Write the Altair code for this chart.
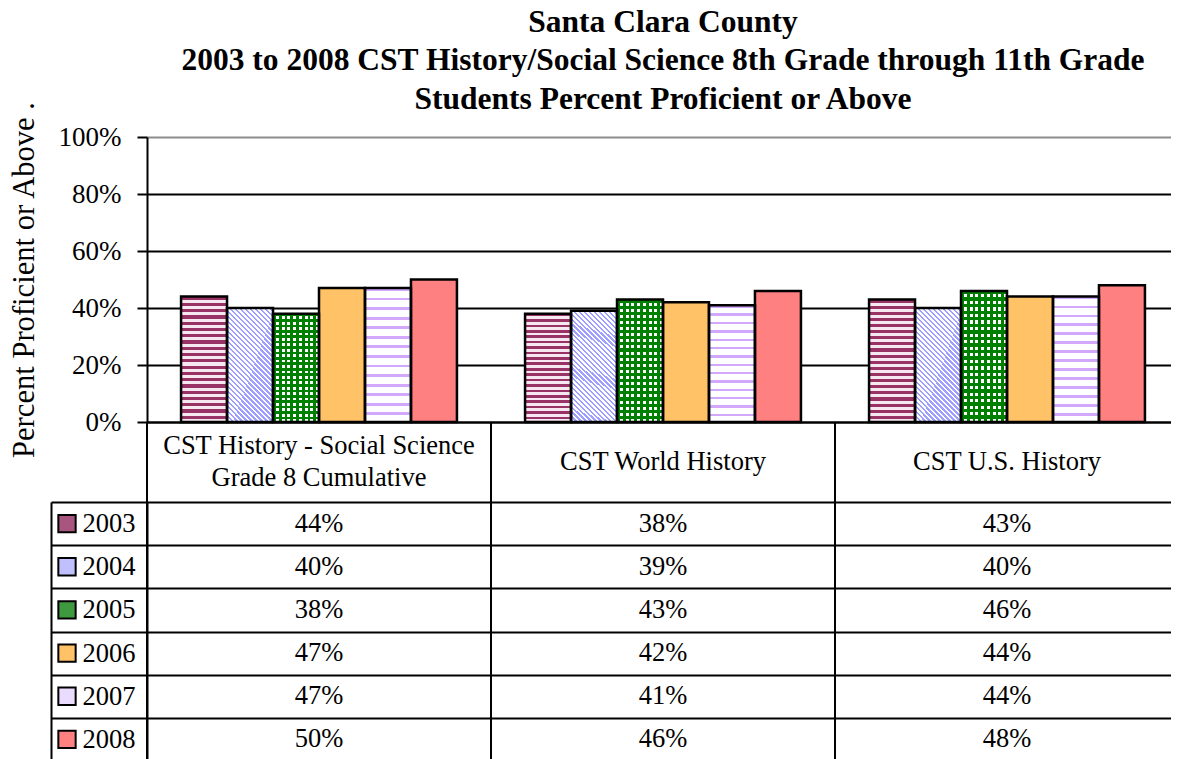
import altair as alt
import pandas as pd

FONT = "Liberation Serif"

categories = ["CST History - Social Science Grade 8 Cumulative", "CST World History", "CST U.S. History"]
header_labels = ["CST History - Social Science\nGrade 8 Cumulative", "CST World History", "CST U.S. History"]
years = ["2003", "2004", "2005", "2006", "2007", "2008"]
v2003 = [44, 38, 43]
v2004 = [40, 39, 40]
v2005 = [38, 43, 46]
v2006 = [47, 42, 44]
v2007 = [47, 41, 44]
v2008 = [50, 46, 48]
y_ticks = [0, 20, 40, 60, 80, 100]
key_colors = ["#a8557f", "#c0c0ff", "#3f9a3f", "#ffc266", "#eadcff", "#ff8080"]
title_lines = ["Santa Clara County",
               "2003 to 2008 CST History/Social Science 8th Grade through 11th Grade",
               "Students Percent Proficient or Above"]
y_title = "Percent Proficient or Above ."

series = dict(zip(years, [v2003, v2004, v2005, v2006, v2007, v2008]))
rows = []
for yr in years:
    for c, v in zip(categories, series[yr]):
        rows.append({"category": c, "year": yr, "value": v})
df = pd.DataFrame(rows)

W = 1032


def stripes(c1, c2, n, duty, x1, y1, x2, y2):
    stops = []
    for i in range(n):
        a = round(i / n, 5)
        b = round((i + duty) / n, 5)
        e = round((i + 1) / n, 5)
        stops += [alt.GradientStop(offset=a, color=c1), alt.GradientStop(offset=b, color=c1),
                  alt.GradientStop(offset=b, color=c2), alt.GradientStop(offset=e, color=c2)]
    return alt.LinearGradient(gradient="linear", stops=stops, x1=x1, y1=y1, x2=x2, y2=y2)


xcat = alt.X("category:N", sort=categories,
             scale=alt.Scale(paddingInner=0.198, paddingOuter=0.099),
             axis=alt.Axis(labels=False, ticks=False, title=None, domain=True,
                           domainColor="black", domainWidth=2, grid=False))
xoff = alt.XOffset("year:N", sort=years, scale=alt.Scale(domain=years, paddingInner=0, paddingOuter=0))
yval = alt.Y("value:Q", scale=alt.Scale(domain=[0, 100]),
             axis=alt.Axis(values=y_ticks, labelExpr="datum.value + '%'",
                           title=y_title, labelFont=FONT, titleFont=FONT,
                           labelFontSize=27, labelPadding=16, tickSize=10, tickWidth=2,
                           tickColor="black", domainColor="black", domainWidth=2,
                           grid=True, gridWidth=2,
                           gridColor={"condition": {"test": "datum.value == 100", "value": "#8c8c8c"},
                                      "value": "black"},
                           titleFontSize=30.6, titleFontWeight="normal", titlePadding=19))

base = alt.Chart(df).encode(x=xcat, xOffset=xoff, y=yval)

fills = {
    "2003": [stripes("#993366", "#f6e8f0", 20, 0.5, 0, 0, 0, 1)],
    "2004": [stripes("#9f9fff", "#ffffff", 32, 0.45, 0, 1, 0.491, -0.207)],
    "2005": [stripes("#008000", "#ffffff", 20, 0.5, 0, 0, 0, 1),
             stripes("#008000", "rgba(255,255,255,0)", 8, 0.5, 0, 0, 1, 0)],
    "2006": ["#ffc266"],
    "2007": [stripes("#d2a8ff", "#ffffff", 14, 0.3, 0, 0, 0, 1)],
    "2008": ["#ff8080"],
}

layers = []
for yr in years:
    for f in fills[yr]:
        layers.append(base.transform_filter(alt.datum.year == yr).mark_bar(fill=f, strokeWidth=0))
layers.append(base.mark_bar(fill="white", fillOpacity=0, stroke="black", strokeWidth=2.5))

top = alt.layer(*layers).properties(
    width=W, height=285,
    title=alt.TitleParams(text=title_lines, fontSize=31.5, fontWeight="bold", anchor="middle",
                          frame="group", lineHeight=38.5, offset=-14.5, color="black", font=FONT))

tab_scale = alt.Scale(domain=categories, paddingInner=0, paddingOuter=0)
xtab = alt.X("category:N", sort=categories, scale=tab_scale, axis=None)

cat_df = pd.DataFrame({"category": categories, "label": header_labels})
col_rules = alt.Chart(cat_df).mark_rule(color="black", strokeWidth=2).encode(
    x=alt.X("category:N", sort=categories, scale=tab_scale, axis=None, bandPosition=0))

hdr_base = alt.Chart(cat_df).encode(x=xtab, text="label:N")
hdr_multi = hdr_base.transform_filter("indexof(datum.label, '\\n') >= 0").mark_text(
    font=FONT, fontSize=26.5, lineBreak="\n", baseline="middle", lineHeight=32, dy=-16, color="black")
hdr_single = hdr_base.transform_filter("indexof(datum.label, '\\n') < 0").mark_text(
    font=FONT, fontSize=26.5, baseline="middle", color="black")
header = alt.layer(hdr_multi, hdr_single, col_rules).properties(width=W, height=80)

body_text = alt.Chart(df).transform_calculate(label="datum.value + '%'").mark_text(
    font=FONT, fontSize=26.5, color="black", baseline="middle").encode(
    x=xtab,
    y=alt.Y("year:N", sort=years, scale=alt.Scale(paddingInner=0, paddingOuter=0),
            axis=alt.Axis(title=None, tickBand="extent", tickSize=96, tickColor="black", tickWidth=2,
                          grid=True, gridColor="black", gridWidth=2, domain=True,
                          domainColor="black", domainWidth=2, labelAlign="left", labelPadding=-31,
                          labelFont=FONT, labelFontSize=26.5, labelBaseline="middle")),
    text="label:N")

keys = alt.Chart(pd.DataFrame({"year": years, "kc": key_colors})).mark_square(
    size=300, stroke="black", strokeWidth=2, opacity=1, filled=True).encode(
    x=alt.value(-80),
    y=alt.Y("year:N", sort=years, scale=alt.Scale(paddingInner=0, paddingOuter=0),
            axis=alt.Axis(orient="left", offset=96, labels=False, ticks=False, grid=False,
                          domain=True, domainColor="black", domainWidth=2, title=None)),
    fill=alt.Fill("kc:N", scale=None))

body = alt.layer(body_text, col_rules, keys).resolve_scale(y="independent").properties(
    width=W, height=259)

chart = alt.vconcat(top, header, body, spacing=0, bounds="flush").resolve_scale(
    x="independent", y="independent").properties(
    autosize=alt.AutoSizeParams(type="none"),
    padding={"left": 139, "top": 129, "right": -8, "bottom": 622}).configure(
    font=FONT).configure_view(stroke=None).configure_axis(
    labelColor="black", titleColor="black", labelFont=FONT, titleFont=FONT).configure_text(font=FONT)

chart.save("out.html", embed_options={"renderer": "svg", "actions": False})
